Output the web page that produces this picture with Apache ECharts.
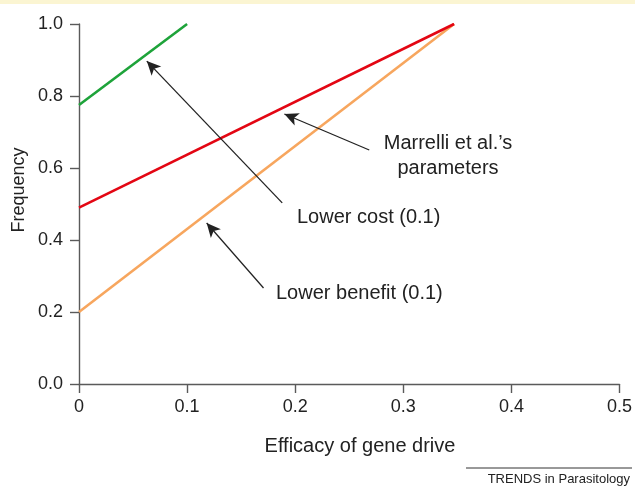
<!DOCTYPE html>
<html>
<head>
<meta charset="utf-8">
<script src="https://cdn.jsdelivr.net/npm/echarts@6/dist/echarts.min.js"></script>
<style>
html,body{margin:0;padding:0;background:#fff;}
#c{width:635px;height:488px;}
</style>
</head>
<body>
<div id="c"></div>
<script>
// Data
const greenLine = [[0, 0.775], [0.1, 1.0]];        // Lower cost (0.1)
const redLine = [[0, 0.49], [0.347, 1.0]];          // Marrelli et al.'s parameters
const orangeLine = [[0, 0.2], [0.347, 1.0]];        // Lower benefit (0.1)
const xTicks = [0, 0.1, 0.2, 0.3, 0.4, 0.5];
const yTicks = [0.0, 0.2, 0.4, 0.6, 0.8, 1.0];
// annotation arrows (data coords): [tail, head]
const arrowCost = [[0.188, 0.503], [0.0627, 0.897]];
const arrowBenefit = [[0.1707, 0.2667], [0.1181, 0.4472]];
const arrowMarrelli = [[0.2685, 0.65], [0.190, 0.75]];

const FONT = '"Liberation Sans", Arial, Helvetica, sans-serif';
const chart = echarts.init(document.getElementById('c'), null, {renderer: 'canvas'});

const arrowLine = (a) => [{coord: a[0]}, {coord: a[1]}];

chart.setOption({
  animation: false,
  backgroundColor: '#ffffff',
  grid: {left: 79, right: 14, top: 24, bottom: 104},
  xAxis: {
    type: 'value', min: 0, max: 0.5, interval: 0.1,
    axisLine: {lineStyle: {color: '#5a5a5a', width: 1.4}},
    axisTick: {show: true, length: 9, lineStyle: {color: '#5a5a5a', width: 1.4}},
    splitLine: {show: false},
    axisLabel: {color: '#222', fontSize: 18, fontFamily: FONT, margin: 14,
      formatter: v => xTicks.includes(+v.toFixed(1)) ? String(+v.toFixed(1)) : ''}
  },
  yAxis: {
    type: 'value', min: 0, max: 1, interval: 0.2,
    axisLine: {show: true, lineStyle: {color: '#5a5a5a', width: 1.4}},
    axisTick: {show: true, length: 9, lineStyle: {color: '#5a5a5a', width: 1.4}},
    splitLine: {show: false},
    axisLabel: {color: '#222', fontSize: 18, fontFamily: FONT, margin: 16,
      formatter: v => yTicks.includes(+v.toFixed(1)) ? v.toFixed(1) : ''}
  },
  series: [
    {type: 'line', data: orangeLine, symbol: 'none', lineStyle: {color: '#f7a65e', width: 2.6}},
    {type: 'line', data: redLine, symbol: 'none', lineStyle: {color: '#e30613', width: 2.6}},
    {type: 'line', data: greenLine, symbol: 'none', lineStyle: {color: '#1ea33a', width: 2.6},
      markLine: {
        silent: true, animation: false,
        symbol: ['none', 'arrow'], symbolSize: [10, 14],
        label: {show: false},
        lineStyle: {color: '#222', width: 1.3, type: 'solid'},
        data: [arrowLine(arrowCost), arrowLine(arrowBenefit), arrowLine(arrowMarrelli)]
      }}
  ],
  graphic: [
    {type: 'rect', left: 0, top: 0, shape: {width: 635, height: 4}, style: {fill: '#fbf5d2'}},
    {type: 'text', x: 19, y: 190, rotation: Math.PI / 2, style: {text: 'Frequency', font: '18px ' + FONT, fill: '#222', textAlign: 'center', textVerticalAlign: 'middle'}},
    {type: 'text', x: 360, y: 446, style: {text: 'Efficacy of gene drive', font: '20px ' + FONT, fill: '#222', textAlign: 'center', textVerticalAlign: 'middle'}},
    {type: 'text', x: 448, y: 143, style: {text: "Marrelli et al.\u2019s", font: '20px ' + FONT, fill: '#222', textAlign: 'center', textVerticalAlign: 'middle'}},
    {type: 'text', x: 448, y: 168, style: {text: 'parameters', font: '20px ' + FONT, fill: '#222', textAlign: 'center', textVerticalAlign: 'middle'}},
    {type: 'text', x: 297, y: 217, style: {text: 'Lower cost (0.1)', font: '20px ' + FONT, fill: '#222', textAlign: 'left', textVerticalAlign: 'middle'}},
    {type: 'text', x: 276, y: 293, style: {text: 'Lower benefit (0.1)', font: '20px ' + FONT, fill: '#222', textAlign: 'left', textVerticalAlign: 'middle'}},
    {type: 'line', shape: {x1: 466, y1: 468, x2: 632, y2: 468}, style: {stroke: '#333', lineWidth: 1}},
    {type: 'text', x: 630, y: 479, style: {text: 'TRENDS in Parasitology', font: '13px ' + FONT, fill: '#222', textAlign: 'right', textVerticalAlign: 'middle'}}
  ]
});
</script>
</body>
</html>
